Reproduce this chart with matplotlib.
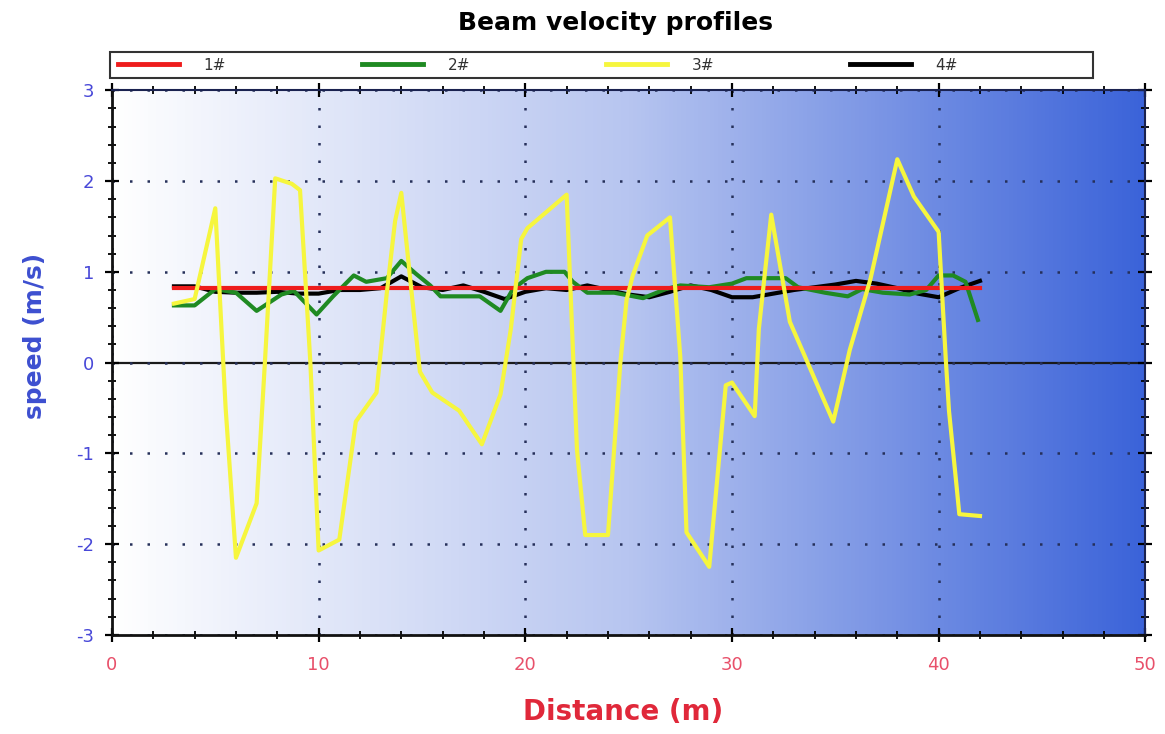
import matplotlib
matplotlib.use('Agg')
import matplotlib.pyplot as plt
import numpy as np
from matplotlib.colors import LinearSegmentedColormap
from matplotlib.ticker import MultipleLocator
from matplotlib.patches import Rectangle

plt.rcParams['font.family'] = ['DejaVu Sans']
plt.rcParams['axes.unicode_minus'] = False

# series 1# (red)
x1 = [3, 42]
v1 = [0.82, 0.82]

# series 2# (green)
x2 = [3, 4, 5, 6, 7, 8.2, 8.8, 9.9, 10.7, 11.7, 12.3, 13.3, 14, 14.7, 15.4, 15.9, 17.8, 18.8,
      19.4, 20.1, 21, 21.9, 22.3, 23, 24.3, 25.7, 26.8, 27.5, 28.9, 30, 30.7, 32.6, 33.2, 34.5,
      35.6, 36.3, 37.3, 38.6, 39.4, 40, 40.7, 41.3, 41.9]
v2 = [0.63, 0.63, 0.81, 0.77, 0.57, 0.75, 0.79, 0.53, 0.73, 0.96, 0.89, 0.93, 1.12, 0.98, 0.85,
      0.73, 0.73, 0.57, 0.81, 0.93, 1.0, 1.0, 0.89, 0.77, 0.77, 0.71, 0.81, 0.85, 0.83, 0.87,
      0.93, 0.93, 0.83, 0.77, 0.73, 0.81, 0.77, 0.75, 0.8, 0.96, 0.96, 0.89, 0.47]

# series 3# (yellow)
x3 = [3, 4, 5, 5.3, 5.5, 6, 7, 7.4, 7.9, 8.7, 9.1, 9.6, 10, 11, 11.8, 12.8, 13.3, 13.7, 14,
      14.5, 14.9, 15.5, 16.8, 17.9, 18.8, 19.3, 19.8, 20.1, 22, 22.5, 22.9, 24, 24.6, 24.9,
      25.2, 25.9, 27, 27.5, 27.8, 28.9, 29.7, 30, 31.1, 31.3, 31.9, 32.8, 34.9, 35.7, 36.7,
      38, 38.8, 40, 40.35, 40.5, 40.85, 41, 42]
v3 = [0.65, 0.7, 1.7, 0.37, -0.5, -2.15, -1.55, 0.0, 2.03, 1.97, 1.9, 0.0, -2.07, -1.95,
      -0.65, -0.33, 0.77, 1.56, 1.87, 0.77, -0.1, -0.33, -0.53, -0.9, -0.35, 0.37, 1.36, 1.48,
      1.85, -0.96, -1.9, -1.9, 0.0, 0.69, 0.96, 1.4, 1.6, 0.06, -1.87, -2.25, -0.25, -0.22,
      -0.59, 0.37, 1.63, 0.45, -0.65, 0.14, 0.92, 2.24, 1.83, 1.44, 0.02, -0.53, -1.32, -1.67,
      -1.69]

# series 4# (black)
x4 = [3, 4, 5, 6, 7, 8, 9, 10, 11, 12, 13, 14, 15, 16, 17, 18, 19, 20, 21, 22, 23, 24, 25,
      26, 27, 28, 29, 30, 31, 32, 33, 34, 35, 36, 37, 38, 39, 40, 41, 42]
v4 = [0.84, 0.84, 0.78, 0.77, 0.77, 0.78, 0.76, 0.76, 0.8, 0.8, 0.82, 0.95, 0.83, 0.8, 0.85,
      0.78, 0.7, 0.78, 0.82, 0.8, 0.85, 0.8, 0.75, 0.72, 0.78, 0.85, 0.8, 0.72, 0.72, 0.76,
      0.8, 0.83, 0.86, 0.9, 0.87, 0.82, 0.76, 0.72, 0.82, 0.9]

fig = plt.figure(figsize=(11.65, 7.34), dpi=100)
ax = fig.add_axes([0.0961, 0.135, 0.887, 0.742])

# background gradient
cmap = LinearSegmentedColormap.from_list('bg', ['#ffffff', '#b7c5f0', '#3b63d9'])
grad = np.linspace(0, 1, 256).reshape(1, -1)
ax.imshow(grad, extent=[0, 50, -3, 3], aspect='auto', cmap=cmap, zorder=0)

ax.grid(which='major', color='#26305a', linestyle=(0, (1, 6)), linewidth=1.8)
ax.axhline(0, color='#1a1a1a', lw=1.6, zorder=1.5)

lw = 3
l4, = ax.plot(x4, v4, color='black', lw=lw, zorder=2, label='4#')
l2, = ax.plot(x2, v2, color='#1f8a22', lw=lw, zorder=3, label='2#')
l1, = ax.plot(x1, v1, color='#ee1c1c', lw=lw, zorder=4, label='1#')
l3, = ax.plot(x3, v3, color='#f6f63e', lw=lw, zorder=5, label='3#')

ax.set_xlim(0, 50)
ax.set_ylim(-3, 3)
ax.xaxis.set_major_locator(MultipleLocator(10))
ax.xaxis.set_minor_locator(MultipleLocator(2))
ax.yaxis.set_major_locator(MultipleLocator(1))
ax.yaxis.set_minor_locator(MultipleLocator(0.2))
ax.tick_params(which='both', direction='inout', top=True, right=True)
ax.tick_params(which='major', length=10, width=1.6)
ax.tick_params(which='minor', length=6, width=1.3)
ax.tick_params(axis='x', labelcolor='#e8506a', labelsize=13, pad=10)
ax.tick_params(axis='y', labelcolor='#4848d8', labelsize=13, pad=8)

for s in ['left', 'bottom']:
    ax.spines[s].set_linewidth(2)
    ax.spines[s].set_color('#111111')
for s in ['top', 'right']:
    ax.spines[s].set_linewidth(1.5)
    ax.spines[s].set_color('#1a2250')

fig.text(615 / 1165, 0.968, 'Beam velocity profiles', ha='center', va='center',
         fontsize=18, fontweight='bold', color='black')
fig.text(0.030, 0.543, 'speed (m/s)', ha='center', va='center', rotation=90,
         fontsize=18, fontweight='bold', color='#3d4fd0')
fig.text(623 / 1165, 0.030, 'Distance (m)', ha='center', va='center',
         fontsize=20, fontweight='bold', color='#e0283a')

# legend box
fig.add_artist(Rectangle((110 / 1165, 1 - 78 / 734), 983 / 1165, 26 / 734,
                         transform=fig.transFigure, facecolor='white',
                         edgecolor='#333333', linewidth=1.5))
leg = fig.legend(handles=[l1, l2, l3, l4], labels=['1#', '2#', '3#', '4#'],
                 loc='center left', bbox_to_anchor=(118 / 1165, 1 - 65 / 734),
                 ncol=4, frameon=False, fontsize=11, handlelength=4.0,
                 handletextpad=1.6, columnspacing=8.9,
                 borderaxespad=0, borderpad=0, labelcolor='#333333')
for h in leg.get_lines():
    h.set_linewidth(3.5)

fig.savefig('out.png', dpi=100)
